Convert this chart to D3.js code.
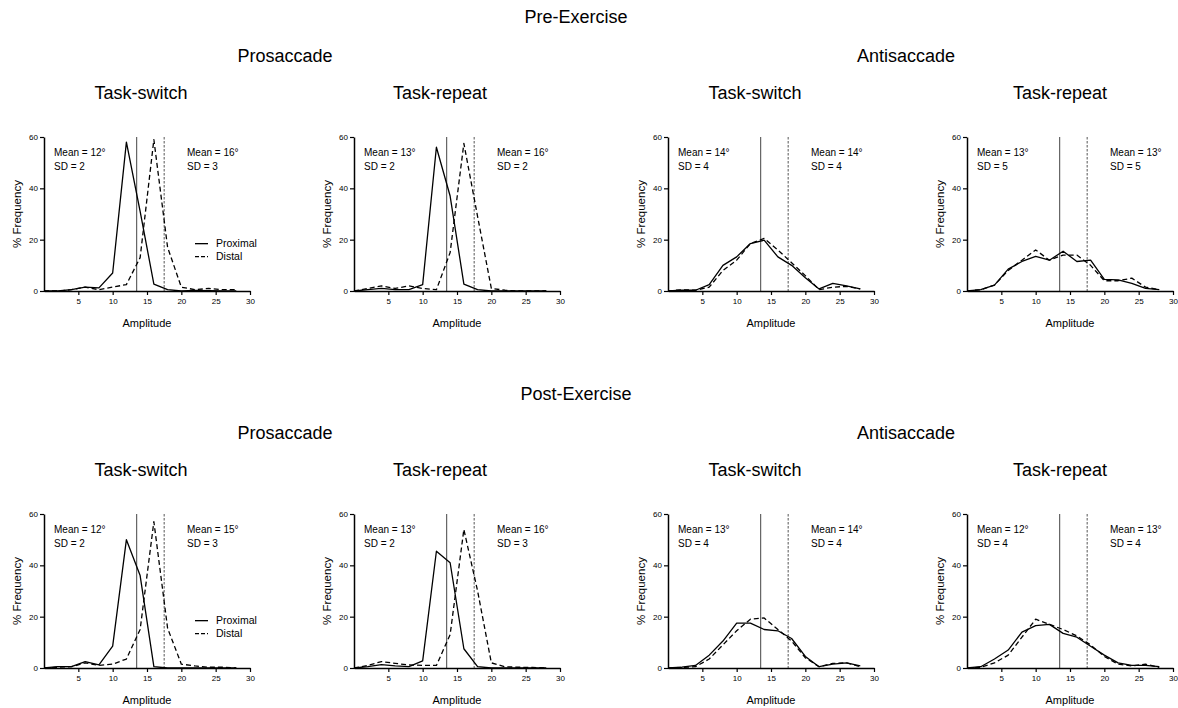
<!DOCTYPE html>
<html>
<head>
<meta charset="utf-8">
<script src="https://cdn.jsdelivr.net/npm/d3@7"></script>
<style>
  body { margin: 0; background: #fff; }
  svg { display: block; font-family: "Liberation Sans", Arial, Helvetica, sans-serif; }
</style>
</head>
<body>
<svg id="chart" width="1178" height="708"></svg>
<script>
/* --- Data --- */
const AMPLITUDE = [0, 2, 4, 6, 8, 10, 12, 14, 16, 18, 20, 22, 24, 26, 28];
const X_TICKS = [5, 10, 15, 20, 25, 30];
const Y_TICKS = [0, 20, 40, 60];
const REF_LINES = [13.5, 17.5]; // solid = proximal, dashed = distal

// Pre-Exercise
const PRE_PRO_SWITCH_PROX = [0, 0, 0.5, 1.5, 1.2, 7, 58, 31, 2.7, 0.5, 0, 0.2, 0.1, 0, 0];
const PRE_PRO_SWITCH_DIST = [0, 0, 0.5, 1.5, 0.5, 1.5, 2.5, 13, 59, 17, 1.5, 0.5, 1, 0.5, 0.5];
const PRE_PRO_REPEAT_PROX = [0, 0.5, 1, 0.5, 0.5, 2.5, 56, 37, 2.7, 0.5, 0, 0, 0, 0, 0];
const PRE_PRO_REPEAT_DIST = [0, 1, 2, 1, 2, 1, 0.5, 15, 57.5, 29, 1, 0.3, 0, 0, 0];
const PRE_ANTI_SWITCH_PROX = [0, 0.3, 0.3, 2.5, 10, 13.3, 18.5, 19.8, 13.3, 10, 5.2, 0.8, 3, 2, 0.8];
const PRE_ANTI_SWITCH_DIST = [0, 0.5, 0.3, 1.5, 8, 12, 18.5, 20.5, 16, 11, 6, 0.5, 1.5, 1.8, 0.8];
const PRE_ANTI_REPEAT_PROX = [0, 0.5, 2.3, 8.5, 11.5, 13.5, 12, 15.5, 11.5, 12, 4.5, 4.3, 3, 1, 0.5];
const PRE_ANTI_REPEAT_DIST = [0, 0.5, 2.3, 8, 12, 16, 12, 14, 14, 10, 4, 4, 5, 1.5, 0.5];

// Post-Exercise
const POST_PRO_SWITCH_PROX = [0, 0.5, 0.5, 2.5, 1.2, 8.5, 50, 36, 0.5, 0, 0, 0, 0, 0, 0];
const POST_PRO_SWITCH_DIST = [0, 0.3, 0.5, 2, 1, 1.5, 3.5, 15, 57, 15.5, 1.5, 0.8, 0.3, 0.3, 0];
const POST_PRO_REPEAT_PROX = [0, 0.5, 1.3, 0.8, 0.5, 2.8, 45.5, 41, 7.5, 0.5, 0, 0, 0, 0, 0];
const POST_PRO_REPEAT_DIST = [0, 1, 2.5, 1.8, 1.2, 1, 1, 13, 54, 30, 2, 0.5, 0.3, 0.2, 0];
const POST_ANTI_SWITCH_PROX = [0, 0.3, 1, 5, 10.5, 17.5, 17.5, 15, 14.5, 11.5, 4.5, 0.5, 1.5, 2, 0.8];
const POST_ANTI_SWITCH_DIST = [0, 0.2, 0.5, 3.5, 9, 14.5, 19, 19.5, 15, 10.5, 4, 0.5, 1.8, 2, 0.5];
const POST_ANTI_REPEAT_PROX = [0, 0.5, 3.5, 7, 14, 16.5, 17, 13.5, 12, 8.5, 5, 2, 1, 1, 0.5];
const POST_ANTI_REPEAT_DIST = [0, 0.3, 2, 5, 12, 19, 17, 15, 12.5, 9, 4.5, 1.5, 0.8, 1.5, 0.2];

// Annotation labels: [proximal mean, proximal SD, distal mean, distal SD]
const PRE_STATS = [[12, 2, 16, 3], [13, 2, 16, 2], [14, 4, 14, 4], [13, 5, 13, 5]];
const POST_STATS = [[12, 2, 15, 3], [13, 2, 16, 3], [13, 4, 14, 4], [12, 4, 13, 4]];

const BLOCK_TITLES = ["Pre-Exercise", "Post-Exercise"];
const TASK_TITLES = ["Prosaccade", "Antisaccade"];
const COND_TITLES = ["Task-switch", "Task-repeat", "Task-switch", "Task-repeat"];
const LEGEND_LABELS = ["Proximal", "Distal"];

/* --- Layout --- */
const svg = d3.select("#chart");
const PANEL_X = [44, 354, 668, 967];
const PANEL_W = 206;
const PANEL_H = 154;
const ROW_TOP = [137, 514];
const COND_TITLE_X = [141, 440, 755, 1060];
const TASK_TITLE_X = [285, 906];

const rows = [
  { title: BLOCK_TITLES[0], stats: PRE_STATS,
    series: [[PRE_PRO_SWITCH_PROX, PRE_PRO_SWITCH_DIST], [PRE_PRO_REPEAT_PROX, PRE_PRO_REPEAT_DIST],
             [PRE_ANTI_SWITCH_PROX, PRE_ANTI_SWITCH_DIST], [PRE_ANTI_REPEAT_PROX, PRE_ANTI_REPEAT_DIST]] },
  { title: BLOCK_TITLES[1], stats: POST_STATS,
    series: [[POST_PRO_SWITCH_PROX, POST_PRO_SWITCH_DIST], [POST_PRO_REPEAT_PROX, POST_PRO_REPEAT_DIST],
             [POST_ANTI_SWITCH_PROX, POST_ANTI_SWITCH_DIST], [POST_ANTI_REPEAT_PROX, POST_ANTI_REPEAT_DIST]] }
];

const x = d3.scaleLinear().domain([0, 30]).range([0, PANEL_W]);
const y = d3.scaleLinear().domain([0, 60]).range([PANEL_H, 0]);
const line = d3.line().x((d, i) => x(AMPLITUDE[i])).y(d => y(d));

rows.forEach((row, r) => {
  const top = ROW_TOP[r];

  // Titles
  svg.append("text")
    .attr("x", 576).attr("y", top - 114)
    .attr("text-anchor", "middle").attr("font-size", "18px")
    .text(row.title);
  TASK_TITLES.forEach((t, i) => {
    svg.append("text")
      .attr("x", TASK_TITLE_X[i]).attr("y", top - 75)
      .attr("text-anchor", "middle").attr("font-size", "18px")
      .text(t);
  });

  row.series.forEach((pair, p) => {
    svg.append("text")
      .attr("x", COND_TITLE_X[p]).attr("y", top - 38)
      .attr("text-anchor", "middle").attr("font-size", "18px")
      .text(COND_TITLES[p]);

    const g = svg.append("g").attr("transform", `translate(${PANEL_X[p]},${top})`);

    // Reference lines
    REF_LINES.forEach((v, k) => {
      g.append("line")
        .attr("x1", x(v)).attr("x2", x(v))
        .attr("y1", y(60)).attr("y2", y(0))
        .attr("stroke", k === 0 ? "#444" : "#555")
        .attr("stroke-width", 1)
        .attr("stroke-dasharray", k === 0 ? null : "2.5,1.5");
    });

    // Data lines
    pair.forEach((vals, k) => {
      g.append("path")
        .datum(vals)
        .attr("d", line)
        .attr("fill", "none")
        .attr("stroke", "#000")
        .attr("stroke-width", 1.3)
        .attr("stroke-linejoin", "round")
        .attr("stroke-dasharray", k === 0 ? null : "5,3");
    });

    // Axes
    const xAxis = g.append("g").attr("transform", `translate(0,${PANEL_H})`)
      .call(d3.axisBottom(x).tickValues(X_TICKS).tickSize(4).tickSizeOuter(0).tickPadding(3));
    const yAxis = g.append("g")
      .call(d3.axisLeft(y).tickValues(Y_TICKS).tickSize(4).tickSizeOuter(0).tickPadding(2));
    [xAxis, yAxis].forEach(a => {
      a.select(".domain").attr("stroke-width", 1.5);
      a.selectAll(".tick line").attr("stroke-width", 1.2);
      a.selectAll(".tick text").attr("font-size", "8px")
        .attr("font-family", "Liberation Sans, Arial, sans-serif").attr("fill", "#000");
    });

    g.append("text")
      .attr("x", PANEL_W / 2).attr("y", PANEL_H + 36)
      .attr("text-anchor", "middle").attr("font-size", "11px")
      .text("Amplitude");
    g.append("text")
      .attr("transform", `translate(-23,${PANEL_H / 2}) rotate(-90)`)
      .attr("text-anchor", "middle").attr("font-size", "11.5px")
      .text("% Frequency");

    // Annotations
    const s = row.stats[p];
    [[10, s[0], s[1]], [143, s[2], s[3]]].forEach(([ax, m, sd]) => {
      g.append("text").attr("x", ax).attr("y", 19).attr("font-size", "10px")
        .text(`Mean = ${m}°`);
      g.append("text").attr("x", ax).attr("y", 32.5).attr("font-size", "10px")
        .text(`SD = ${sd}`);
    });

    // Legend on the first panel of each row
    if (p === 0) {
      LEGEND_LABELS.forEach((lab, k) => {
        const ly = y(20) + 4 + k * 13;
        g.append("line")
          .attr("x1", 151).attr("x2", 164).attr("y1", ly).attr("y2", ly)
          .attr("stroke", "#000").attr("stroke-width", 1.3)
          .attr("stroke-dasharray", k === 0 ? null : "4,2");
        g.append("text").attr("x", 172).attr("y", ly + 3.5)
          .attr("font-size", "10.5px").text(lab);
      });
    }
  });
});
</script>
</body>
</html>
